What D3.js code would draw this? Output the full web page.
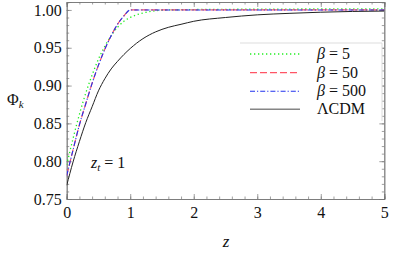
<!DOCTYPE html>
<html><head><meta charset="utf-8">
<script src="https://cdn.jsdelivr.net/npm/d3@7"></script>
<style>body{margin:0;background:#fff}svg{display:block}</style>
</head><body><div id="c"></div>
<script>
const zBlack = [0,0.1,0.2,0.3,0.4,0.5,0.6,0.7,0.8,0.9,1.0,1.2,1.4,1.6,1.8,2.0,2.5,3,3.5,4,4.5,5];
const lcdm   = [0.768,0.799,0.826,0.851,0.872,0.893,0.909,0.922,0.932,0.941,0.949,0.962,0.971,0.977,0.981,0.985,0.990,0.9935,0.9955,0.997,0.998,0.9985];
const zBlue = [0,0.1,0.2,0.3,0.4,0.5,0.6,0.7,0.8,0.9,1.0,2,3,4,5];
const beta50  = [0.781,0.815,0.848,0.876,0.903,0.927,0.948,0.966,0.981,0.992,1.0,1.0,1.0,1.0,1.0];
const beta500 = [0.781,0.815,0.848,0.876,0.903,0.927,0.948,0.966,0.981,0.992,1.0,1.0,1.0,1.0,1.0];
const zGreen = [0,0.1,0.2,0.3,0.4,0.5,0.6,0.7,0.8,0.9,1.0,1.2,1.4,1.6,2,3,4,5];
const beta5  = [0.795,0.830,0.862,0.890,0.914,0.935,0.952,0.966,0.977,0.985,0.990,0.996,0.999,1.0,1.0005,1.001,1.0013,1.0015];
const xTicks = [0,1,2,3,4,5];
const yTicks = [0.75,0.80,0.85,0.90,0.95,1.00];
const legendLabels = ["β = 5","β = 50","β = 500","ΛCDM"];

const FONT='Liberation Serif, Times New Roman, DejaVu Serif, serif';
const W=411,H=257;
const svg=d3.select("#c").append("svg").attr("width",W).attr("height",H).attr("font-family",FONT);
svg.append("rect").attr("width",W).attr("height",H).attr("fill","#fff");
const x=d3.scaleLinear().domain([0,5]).range([66.7,384.3]);
const y=d3.scaleLinear().domain([0.75,1.0105]).range([199,2]);
const frameCol="#777";

function axisG(gen, tr){
  const g=svg.append("g").attr("transform",tr).call(gen).attr("font-family",FONT);
  g.select(".domain").attr("stroke",frameCol).attr("stroke-width",0.8);
  g.selectAll(".tick line").attr("stroke",frameCol).attr("stroke-width",0.7);
  return g;
}
const xMinor=d3.range(0,5.0001,0.2), yMinor=d3.range(0.75,1.0101,0.01);
axisG(d3.axisBottom(x).tickValues(xMinor).tickSize(-2.5).tickFormat(""),`translate(0,${y(0.75)})`);
const gb=axisG(d3.axisBottom(x).tickValues(xTicks).tickSize(-5).tickPadding(8).tickFormat(d3.format("d")),`translate(0,${y(0.75)})`);
gb.selectAll("text").attr("font-size",16).attr("fill","#111");
axisG(d3.axisTop(x).tickValues(xMinor).tickSize(-2.5).tickFormat(""),`translate(0,${y.range()[1]})`);
axisG(d3.axisTop(x).tickValues(xTicks).tickSize(-5).tickFormat(""),`translate(0,${y.range()[1]})`);
axisG(d3.axisLeft(y).tickValues(yMinor).tickSize(-2.5).tickFormat(""),`translate(${x(0)},0)`);
const gl=axisG(d3.axisLeft(y).tickValues(yTicks).tickSize(-5).tickPadding(5).tickFormat(d3.format(".2f")),`translate(${x(0)},0)`);
gl.selectAll("text").attr("font-size",16).attr("fill","#111");
axisG(d3.axisRight(y).tickValues(yMinor).tickSize(-2.5).tickFormat(""),`translate(${x(5)},0)`);
axisG(d3.axisRight(y).tickValues(yTicks).tickSize(-5).tickFormat(""),`translate(${x(5)},0)`);

const line=d3.line().x(d=>x(d[0])).y(d=>y(d[1])).curve(d3.curveMonotoneX);
svg.append("clipPath").attr("id","cp").append("rect").attr("x",x(0)).attr("y",y.range()[1]).attr("width",x(5)-x(0)).attr("height",y(0.75)-y.range()[1]);
const pg=svg.append("g").attr("clip-path","url(#cp)");
const series=[
 {z:zGreen,v:beta5,col:"#22ee22",dash:"1.3,2.7",w:1.3},
 {z:zBlue,v:beta50,col:"#ff5566",dash:"7,3",w:1.2},
 {z:zBlue,v:beta500,col:"#2233ee",dash:"5,2,1.2,2",w:1.1},
 {z:zBlack,v:lcdm,col:"#222",dash:null,w:1.0}
];
series.forEach(s=>{
  pg.append("path").attr("d",line(s.z.map((z,i)=>[z,s.v[i]]))).attr("fill","none")
   .attr("stroke",s.col).attr("stroke-width",s.w).attr("stroke-dasharray",s.dash);
});

const lg=svg.append("g");
lg.append("rect").attr("x",240).attr("y",43).attr("width",142).attr("height",78).attr("fill","#fff");
lg.append("line").attr("x1",240).attr("x2",382).attr("y1",43).attr("y2",43).attr("stroke","#ddd");
lg.append("line").attr("x1",382).attr("x2",382).attr("y1",43).attr("y2",121).attr("stroke","#ddd");
const ly=[54,72.7,91.3,109.3];
series.forEach((s,i)=>{
  lg.append("line").attr("x1",250).attr("x2",300).attr("y1",ly[i]).attr("y2",ly[i])
    .attr("stroke",s.col).attr("stroke-width",i==3?1.6:s.w).attr("stroke-dasharray",s.dash).attr("opacity",i==3?0.55:1);
  const t=lg.append("text").attr("x",317).attr("y",ly[i]+5).attr("font-size",16).attr("fill","#111");
  if(i<3){
    t.append("tspan").attr("font-style","italic").text("β");
    t.append("tspan").text(legendLabels[i].slice(1));
  } else t.text(legendLabels[i]);
});

svg.append("text").attr("x",226).attr("y",247).attr("text-anchor","middle").attr("font-size",17).attr("font-style","italic").attr("fill","#111").text("z");
const pl=svg.append("text").attr("x",7).attr("y",105).attr("font-size",16).attr("fill","#111");
pl.append("tspan").text("Φ");
pl.append("tspan").attr("font-style","italic").attr("font-size",11).attr("dy",3).text("k");
const zt=svg.append("text").attr("x",91).attr("y",168).attr("font-size",16).attr("fill","#111");
zt.append("tspan").attr("font-style","italic").text("z");
zt.append("tspan").attr("font-style","italic").attr("font-size",11).attr("dy",3).text("t");
zt.append("tspan").attr("dy",-3).text(" = 1");
</script></body></html>
